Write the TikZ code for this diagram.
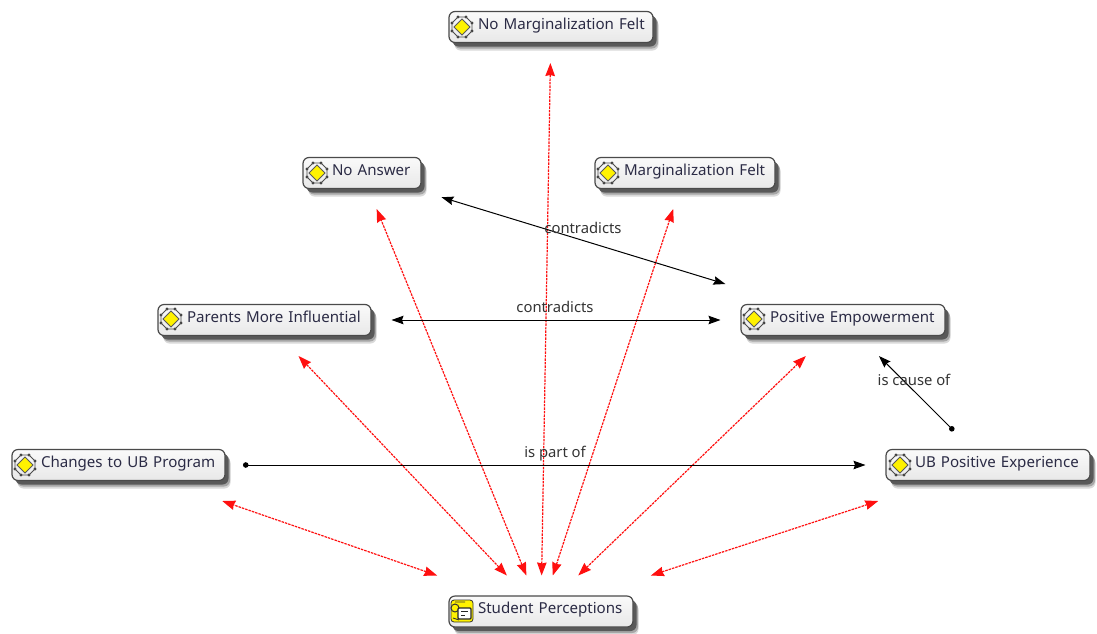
\documentclass[tikz,border=0pt]{standalone}
\usepackage{fontspec}
\setmainfont{Noto Sans}
\usetikzlibrary{arrows.meta,shadows,shapes.geometric}
\definecolor{boxline}{HTML}{4A4A4A}
\definecolor{boxtext}{HTML}{2B2B45}
\definecolor{edgetext}{HTML}{333333}
\definecolor{iconyellow}{HTML}{FFF200}
\definecolor{relred}{HTML}{FF1010}
\tikzset{
  conceptbox/.style={draw=boxline,line width=1.2pt,rounded corners=6pt,
    top color=black!2,bottom color=black!9,
    preaction={fill=black!15,transform canvas={xshift=5.5pt,yshift=-8pt},rounded corners=6pt,draw=none},
    preaction={fill=black!35,transform canvas={xshift=5pt,yshift=-6pt},rounded corners=6pt,draw=none},
    preaction={fill=black!65,transform canvas={xshift=3.5pt,yshift=-4pt},rounded corners=6pt,draw=none},
    minimum height=31pt,inner xsep=0pt,inner ysep=2pt,outer sep=20.5pt,
    text width=#1,align=left,text=boxtext,text height=10pt,text depth=5.5pt,
    font=\fontsize{15.1}{16}\selectfont},
  relred/.style={draw=relred,line width=1.2pt,dash pattern=on 2.5pt off 1pt,
    {Stealth[length=13pt,width=9.5pt,inset=1pt,fill=relred,sep=0pt]}-{Stealth[length=13pt,width=9.5pt,inset=1pt,fill=relred,sep=0pt]}},
  reldouble/.style={draw=black,line width=1pt,
    {Stealth[length=12pt,width=8.5pt,inset=1.5pt]}-{Stealth[length=12pt,width=8.5pt,inset=1.5pt]}},
  relsingle/.style={draw=black,line width=1pt,shorten <=-2.5pt,
    {Circle[length=5.5pt,width=5.5pt]}-{Stealth[length=12pt,width=8.5pt,inset=1.5pt]}},
  edgelabel/.style={text=edgetext,inner sep=0pt,font=\fontsize{14.8}{16}\selectfont},
  ideaicon/.pic={
    \foreach \a/\b in {10/4,4/10,-10/4,-4/10,10/-4,4/-10,-10/-4,-4/-10}{
      \fill[black!75] (\a,\b) circle (1.6pt);
    }
    \draw[black!70,line width=0.8pt] (-10,-4)--(-4,-10) (10,-4)--(4,-10) (-10,4)--(-4,10) (10,4)--(4,10)
      (-10,-4)--(-10,4) (10,-4)--(10,4) (-4,-10)--(4,-10) (-4,10)--(4,10);
    \draw[black!65,fill=iconyellow,line width=0.8pt] (-8,0)--(0,-8)--(8,0)--(0,8)--cycle;
  },
  perceptionicon/.pic={
    \draw[black!80,fill=iconyellow,rounded corners=3pt,line width=0.8pt] (-11,-11) rectangle (11,11);
    \draw[black!80,fill=iconyellow,line width=1pt] (-7,-3) circle (4pt);
    \draw[black!80,line width=0.9pt] (-7,-9)--(3,-9) (-9,7)--(-3,9);
    \draw[black!85,fill=white,rounded corners=1pt,line width=1.1pt] (-4,-3) rectangle (9,8);
    \draw[black!85,line width=1pt] (-1,0.5)--(6,0.5) (-1,4)--(3,4);
  }
}
\begin{document}
\begin{tikzpicture}[x=1pt,y=-1pt]
\useasboundingbox (0,0) rectangle (1097,633);
\node[conceptbox=204pt] (nomarg) at (551,27) {\hspace*{29pt}No Marginalization Felt};
\node[conceptbox=118pt] (noans) at (362,173) {\hspace*{29pt}No Answer};
\node[conceptbox=180pt] (marg) at (685,173) {\hspace*{29pt}Marginalization Felt};
\node[conceptbox=213pt] (parents) at (264.5,320) {\hspace*{29pt}Parents More Influential};
\node[conceptbox=204pt] (posemp) at (843,320) {\hspace*{29pt}Positive Empowerment};
\node[conceptbox=213pt] (changes) at (118.5,465) {\hspace*{29pt}Changes to UB Program};
\node[conceptbox=204pt] (ubpos) at (988,465) {\hspace*{29pt}UB Positive Experience};
\node[conceptbox=184pt] (student) at (541,611.5) {\hspace*{29pt}Student Perceptions};
\pic at (462,27) {ideaicon};
\pic at (317,173) {ideaicon};
\pic at (608,173) {ideaicon};
\pic at (171,319) {ideaicon};
\pic at (754,319) {ideaicon};
\pic at (25,465) {ideaicon};
\pic at (900,465) {ideaicon};
\pic at (462,611) {perceptionicon};
\foreach \n in {nomarg,noans,marg,parents,posemp,changes,ubpos}{
  \draw[relred] (student) -- (\n);
}
\draw[reldouble] (noans) -- (posemp);
\draw[reldouble] (parents) -- (posemp);
\draw[relsingle] (changes) -- (ubpos);
\draw[relsingle] (ubpos) -- (posemp);
\node[edgelabel] (l1) at (583,228) {contradicts};
\node[edgelabel] (l2) at (555,307) {contradicts};
\node[edgelabel] (l3) at (555,454) {is part of};
\node[edgelabel] (l4) at (914,380) {is cause of};
\end{tikzpicture}
\end{document}
